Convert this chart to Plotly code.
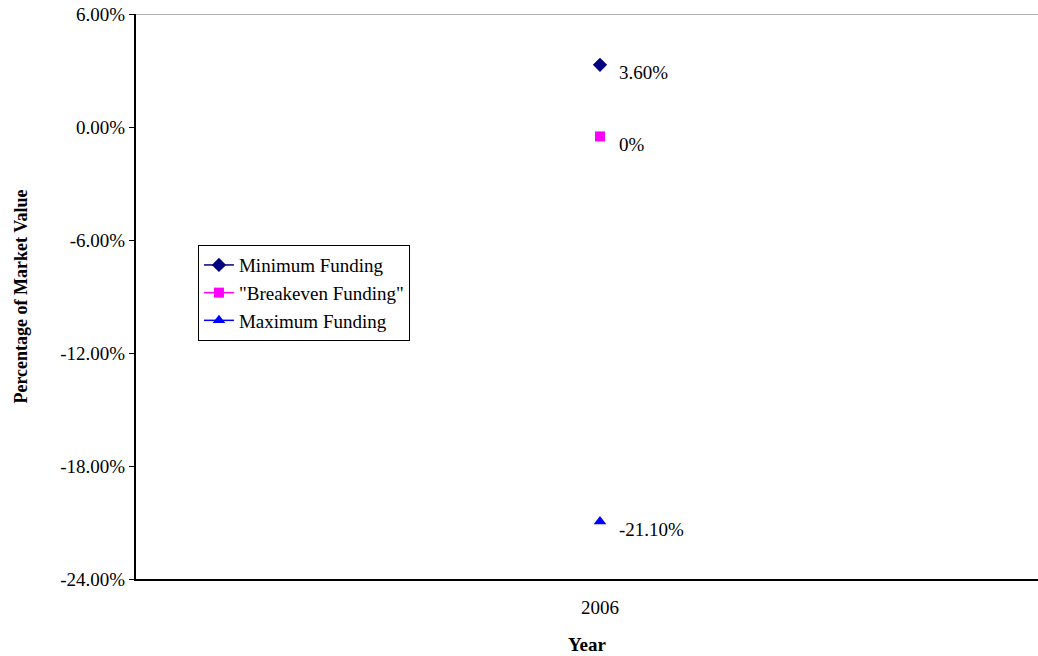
import plotly.graph_objects as go

categories = ["2006"]
series_names = ["Minimum Funding", "\"Breakeven Funding\"", "Maximum Funding"]
series_values = [[0.033], [-0.005], [-0.2095]]
label_texts = ["3.60%", "0%", "-21.10%"]
colors = ["#000080", "#FF00FF", "#0000FF"]
symbols = ["diamond", "square", "triangle-up"]
marker_sizes = [11, 10, 11]
y_ticks = [0.06, 0.0, -0.06, -0.12, -0.18, -0.24]
y_tick_labels = ["6.00%", "0.00%", "-6.00%", "-12.00%", "-18.00%", "-24.00%"]

FONT = "Liberation Serif"

fig = go.Figure()
for name, vals, col, sym, ms in zip(series_names, series_values, colors, symbols, marker_sizes):
    fig.add_trace(go.Scatter(
        x=[0] * len(vals), y=vals, name=name, mode="lines+markers",
        line=dict(color=col, width=1.5),
        marker=dict(symbol=sym, color=col, size=ms),
    ))

for vals, txt in zip(series_values, label_texts):
    fig.add_annotation(x=0, y=vals[0], text=txt, showarrow=False,
                       xanchor="left", yanchor="middle", xshift=17, yshift=-8,
                       font=dict(family=FONT, size=19, color="#000000"))

fig.add_shape(type="line", xref="paper", yref="y", x0=0, x1=1,
              y0=y_ticks[0], y1=y_ticks[0], line=dict(color="#999999", width=1.5))

fig.update_layout(
    width=1038, height=656,
    margin=dict(l=136, r=0, t=14, b=77),
    paper_bgcolor="white", plot_bgcolor="white",
    font=dict(family=FONT, size=19, color="#000000"),
    showlegend=True,
    legend=dict(x=0.0687, y=0.591, xanchor="left", yanchor="top",
                bordercolor="#000000", borderwidth=1, bgcolor="white",
                font=dict(family=FONT, size=19), tracegroupgap=0),
    xaxis=dict(
        range=[-0.5144, 0.4856], tickvals=[0], ticktext=categories,
        showgrid=False, zeroline=False, showline=True, linecolor="#000000",
        linewidth=2, ticks="", tickfont=dict(size=19), ticklabelstandoff=10,
        title=dict(text="<b>Year</b>", font=dict(size=19), standoff=21),
    ),
    yaxis=dict(
        range=[-0.24, 0.06], tickvals=y_ticks, ticktext=y_tick_labels,
        showgrid=False, zeroline=False, showline=True, linecolor="#000000",
        linewidth=2, ticks="outside", ticklen=5, tickcolor="#000000",
        tickfont=dict(size=19),
        title=dict(text="<b>Percentage of Market Value</b>", font=dict(size=18), standoff=28),
    ),
)

fig.write_html("out.html")
